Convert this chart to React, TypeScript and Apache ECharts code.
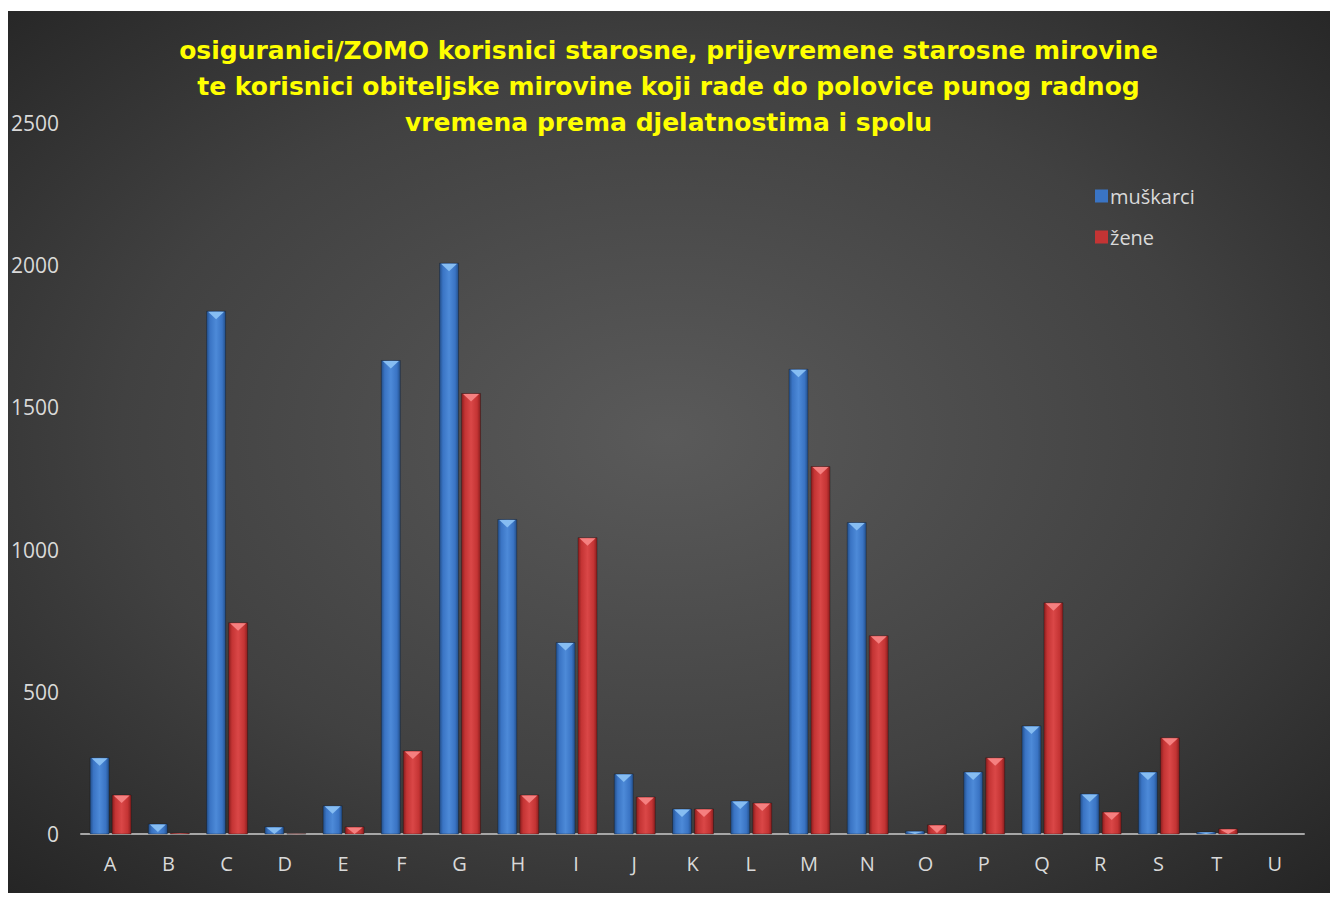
import React, { useEffect, useRef } from "react";
import * as echarts from "echarts";

const categories = ["A","B","C","D","E","F","G","H","I","J","K","L","M","N","O","P","Q","R","S","T","U"];
const muskarci = [268, 35, 1838, 25, 99, 1665, 2007, 1106, 673, 211, 88, 116, 1634, 1095, 10, 218, 380, 141, 218, 7, 0];
const zene = [137, 3, 743, 1, 25, 292, 1549, 137, 1042, 130, 88, 109, 1292, 697, 32, 268, 813, 77, 338, 18, 0];
const yTicks = { min: 0, max: 2500, interval: 500 };
const titleLines = [
  "osiguranici/ZOMO korisnici starosne, prijevremene starosne mirovine",
  "te korisnici obiteljske mirovine koji rade do polovice punog radnog",
  "vremena prema djelatnostima i spolu",
];

const palettes = {
  blue: { edge: "#234f8a", mid: "#3a74c4", light: "#4d8ad8", tri: "#86bdf2", legend: "#3a74c4" },
  red: { edge: "#8a1e1e", mid: "#c43434", light: "#da4747", tri: "#f58080", legend: "#c43434" },
};

function makeRender(offset: number, pal: any) {
  return (params: any, api: any) => {
    const idx = api.value(0);
    const val = api.value(1);
    if (!val) return { type: "group", children: [] };
    const base = api.coord([idx, 0]);
    const top = api.coord([idx, val]);
    const bw = 19;
    const x = base[0] + offset - bw / 2;
    const h = base[1] - top[1];
    const triH = Math.min(8, h);
    return {
      type: "group",
      children: [
        {
          type: "rect",
          shape: { x, y: top[1], width: bw, height: h },
          style: {
            fill: new echarts.graphic.LinearGradient(0, 0, 1, 0, [
              { offset: 0, color: pal.edge },
              { offset: 0.18, color: pal.mid },
              { offset: 0.5, color: pal.light },
              { offset: 0.82, color: pal.mid },
              { offset: 1, color: pal.edge },
            ]),
            stroke: "rgba(0,0,0,0.35)",
            lineWidth: 0.8,
          },
        },
        {
          type: "polygon",
          shape: {
            points: [
              [x + 1.5, top[1] + 0.5],
              [x + bw - 1.5, top[1] + 0.5],
              [x + bw / 2, top[1] + triH],
            ],
          },
          style: { fill: pal.tri },
        },
      ],
    };
  };
}

export default function App() {
  const ref = useRef<HTMLDivElement>(null);
  useEffect(() => {
    if (!ref.current) return;
    const chart = echarts.init(ref.current, null, { renderer: "svg" });
    chart.setOption({
      animation: false,
      backgroundColor: {
        type: "radial",
        x: 0.5,
        y: 0.48,
        r: 0.75,
        colorStops: [
          { offset: 0, color: "#5a5a5a" },
          { offset: 0.55, color: "#414141" },
          { offset: 1, color: "#222222" },
        ],
      },
      title: {
        text: titleLines.join("\n"),
        left: "center",
        top: 16,
        textStyle: {
          color: "#ffff00",
          fontFamily: "DejaVu Sans",
          fontWeight: "bold",
          fontSize: 25,
          lineHeight: 36,
        },
      },
      legend: {
        orient: "vertical",
        left: 1084,
        top: 170,
        itemWidth: 13,
        itemHeight: 13,
        itemGap: 21,
        icon: "rect",
        textStyle: { color: "#d9d9d9", fontSize: 20, fontFamily: "Open Sans", padding: [0, 0, 0, -3] },
        data: ["muškarci", "žene"],
      },
      grid: { left: 75, right: 27, top: 112, bottom: 62, containLabel: false },
      xAxis: {
        type: "category",
        data: categories,
        axisLine: { lineStyle: { color: "#a6a6a6", width: 2 } },
        axisTick: { show: false },
        axisLabel: { color: "#d9d9d9", fontSize: 20, fontFamily: "Open Sans", margin: 19 },
      },
      yAxis: {
        type: "value",
        min: yTicks.min,
        max: yTicks.max,
        interval: yTicks.interval,
        splitLine: { show: false },
        axisLine: { show: false },
        axisTick: { show: false },
        axisLabel: {
          color: "#d9d9d9",
          fontSize: 21,
          fontFamily: "Open Sans",
          margin: 22,
          formatter: (v: number) => String(v),
        },
      },
      series: [
        {
          name: "muškarci",
          type: "custom",
          itemStyle: { color: palettes.blue.legend },
          renderItem: makeRender(-10.5, palettes.blue),
          encode: { x: 0, y: 1 },
          data: muskarci.map((v, i) => [i, v]),
        },
        {
          name: "žene",
          type: "custom",
          itemStyle: { color: palettes.red.legend },
          renderItem: makeRender(11.5, palettes.red),
          encode: { x: 0, y: 1 },
          data: zene.map((v, i) => [i, v]),
        },
      ],
    });
    return () => chart.dispose();
  }, []);
  return (
    <div
      ref={ref}
      style={{ width: 1325, height: 885, position: "relative", marginLeft: -2, top: 3 }}
    />
  );
}
